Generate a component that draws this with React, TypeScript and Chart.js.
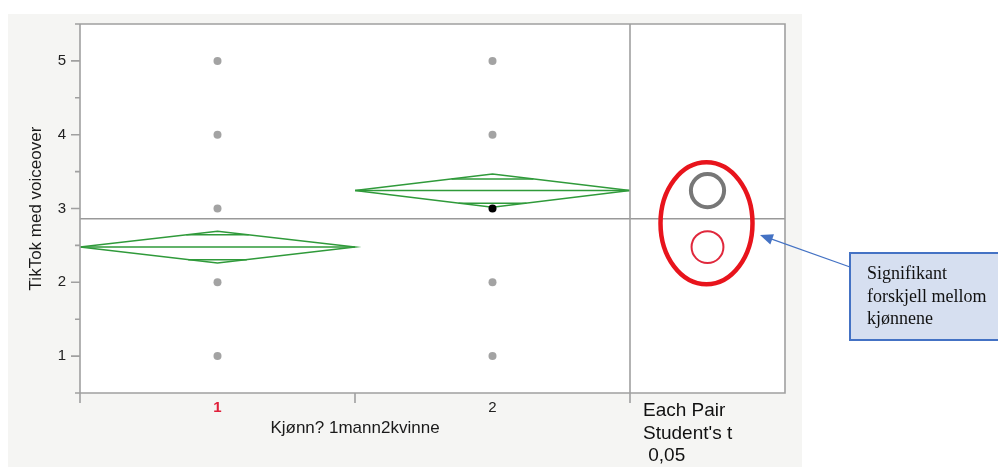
import React, { useEffect, useRef } from "react";
import { Chart, registerables } from "chart.js";

Chart.register(...registerables);

// ---- data ----
const categories = ["1", "2"];
const group1Points = [1, 2, 3, 4, 5];
const group2Points = [1, 2, 4, 5];
const group2Selected = [3];
const groupMeans = [2.477, 3.243];
const ciUpper = [2.693, 3.468];
const ciLower = [2.261, 3.016];
const overlapUpper = [2.644, 3.401];
const overlapLower = [2.307, 3.072];
const grandMean = 2.861;
const yTickLabels = ["1", "2", "3", "4", "5"];
const panelLabels = ["Each Pair", "Student's t", " 0,05"];
const noteLines = ["Signifikant", "forskjell mellom", "kjønnene"];
const xTitle = "Kjønn? 1mann2kvinne";
const yTitle = "TikTok med voiceover";
const ellipseCenterValue = 2.8;

// ---- styles ----
const GREEN = "#2f9a3a";
const FRAME = "#a0a0a0";
const DOT = "#a3a3a3";
const PANEL_W = 155;
const SANS = 'Arial, "Liberation Sans", Helvetica, sans-serif';
const SERIF = '"Liberation Serif", "Times New Roman", serif';

function diamond(i: number) {
  const c = i + 1;
  return [
    { x: c - 0.5, y: groupMeans[i] },
    { x: c, y: ciUpper[i] },
    { x: c + 0.5, y: groupMeans[i] },
    { x: c, y: ciLower[i] },
    { x: c - 0.5, y: groupMeans[i] },
  ];
}
function meanLine(i: number) {
  const c = i + 1;
  return [
    { x: c - 0.5, y: groupMeans[i] },
    { x: c + 0.5, y: groupMeans[i] },
  ];
}
function overlapLine(i: number, v: number, edge: number) {
  const c = i + 1;
  const w = 0.5 * Math.abs(edge - v) / Math.abs(edge - groupMeans[i]);
  return [
    { x: c - w, y: v },
    { x: c + w, y: v },
  ];
}
const lineDs = (data: any[]) => ({
  type: "line" as const,
  data,
  showLine: true,
  borderColor: GREEN,
  borderWidth: 1.5,
  pointRadius: 0,
  fill: false,
  tension: 0,
});

const jmpPlugin = {
  id: "jmpPlugin",
  beforeDraw(chart: any) {
    const { ctx, chartArea: a } = chart;
    const pr = a.right + PANEL_W;
    ctx.save();
    ctx.fillStyle = "#ffffff";
    ctx.fillRect(0, 0, chart.width, chart.height);
    ctx.fillStyle = "#f5f5f3";
    ctx.fillRect(8, 14, pr + 17 - 8, chart.height - 14);
    ctx.fillStyle = "#ffffff";
    ctx.fillRect(a.left, a.top, pr - a.left, a.bottom - a.top);
    ctx.restore();
  },
  beforeDatasetsDraw(chart: any) {
    const { ctx, chartArea: a, scales } = chart;
    const y = scales.y;
    const pr = a.right + PANEL_W;
    const gy = y.getPixelForValue(grandMean);
    ctx.save();
    ctx.strokeStyle = "#999999";
    ctx.lineWidth = 1.5;
    ctx.beginPath();
    ctx.moveTo(a.left, gy);
    ctx.lineTo(pr, gy);
    ctx.stroke();
    ctx.restore();
  },
  afterDraw(chart: any) {
    const { ctx, chartArea: a, scales } = chart;
    const y = scales.y;
    const x = scales.x;
    const pr = a.right + PANEL_W;
    ctx.save();
    // frame
    ctx.strokeStyle = FRAME;
    ctx.lineWidth = 1.6;
    ctx.beginPath();
    ctx.moveTo(a.left, a.top);
    ctx.lineTo(pr, a.top);
    ctx.lineTo(pr, a.bottom);
    ctx.lineTo(a.left, a.bottom);
    ctx.moveTo(a.left, a.top);
    ctx.lineTo(a.left, a.bottom + 10);
    ctx.moveTo(a.right, a.top);
    ctx.lineTo(a.right, a.bottom + 10);
    const mid = x.getPixelForValue(1.5);
    ctx.moveTo(mid, a.bottom);
    ctx.lineTo(mid, a.bottom + 10);
    // y ticks
    y.ticks.forEach((t: any) => {
      const py = y.getPixelForValue(t.value);
      const len = Number.isInteger(t.value) ? 9 : 5;
      ctx.moveTo(a.left - len, py);
      ctx.lineTo(a.left, py);
    });
    ctx.stroke();

    // comparison circles
    const cx = a.right + PANEL_W / 2;
    groupMeans.forEach((m, i) => {
      const cy = y.getPixelForValue(m);
      const r = Math.abs(y.getPixelForValue(ciUpper[i]) - cy);
      ctx.beginPath();
      ctx.arc(cx, cy, r, 0, Math.PI * 2);
      if (i === 0) {
        ctx.strokeStyle = "#e0283c";
        ctx.lineWidth = 2;
      } else {
        ctx.strokeStyle = "#777777";
        ctx.lineWidth = 4;
      }
      ctx.stroke();
    });

    // annotation ellipse
    const ey = y.getPixelForValue(ellipseCenterValue);
    ctx.beginPath();
    ctx.ellipse(cx - 1, ey, 46, 61, 0, 0, Math.PI * 2);
    ctx.strokeStyle = "#e8141c";
    ctx.lineWidth = 4.5;
    ctx.stroke();

    // panel labels
    ctx.fillStyle = "#111";
    ctx.font = `19px ${SANS}`;
    ctx.textAlign = "left";
    ctx.textBaseline = "alphabetic";
    panelLabels.forEach((s, i) => {
      ctx.fillText(s, a.right + 13, 416 + i * 22.7);
    });

    // note box
    const bx = 850, by = 253, bw = 160, bh = 87;
    ctx.fillStyle = "#d6dff0";
    ctx.fillRect(bx, by, bw, bh);
    ctx.strokeStyle = "#4472c4";
    ctx.lineWidth = 2;
    ctx.strokeRect(bx, by, bw, bh);
    ctx.fillStyle = "#111";
    ctx.font = `18px ${SERIF}`;
    noteLines.forEach((s, i) => ctx.fillText(s, 867, 279 + i * 22.5));

    // arrow
    const tx = 850, ty = 267, hx = 760, hy = 235;
    const ang = Math.atan2(hy - ty, hx - tx);
    ctx.strokeStyle = "#4472c4";
    ctx.lineWidth = 1.2;
    ctx.beginPath();
    ctx.moveTo(tx, ty);
    ctx.lineTo(hx - Math.cos(ang) * 8, hy - Math.sin(ang) * 8);
    ctx.stroke();
    ctx.fillStyle = "#4472c4";
    ctx.beginPath();
    ctx.moveTo(hx, hy);
    ctx.lineTo(hx - Math.cos(ang - 0.4) * 14, hy - Math.sin(ang - 0.4) * 14);
    ctx.lineTo(hx - Math.cos(ang + 0.4) * 14, hy - Math.sin(ang + 0.4) * 14);
    ctx.closePath();
    ctx.fill();
    ctx.restore();
  },
};

export default function App() {
  const ref = useRef<HTMLCanvasElement | null>(null);
  useEffect(() => {
    if (!ref.current) return;
    const datasets: any[] = [
      {
        type: "scatter",
        data: group1Points.map((v) => ({ x: 1, y: v })),
        pointRadius: 4,
        backgroundColor: DOT,
        borderWidth: 0,
      },
      {
        type: "scatter",
        data: group2Points.map((v) => ({ x: 2, y: v })),
        pointRadius: 4,
        backgroundColor: DOT,
        borderWidth: 0,
      },
      {
        type: "scatter",
        data: group2Selected.map((v) => ({ x: 2, y: v })),
        pointRadius: 4,
        backgroundColor: "#000",
        borderWidth: 0,
      },
    ];
    groupMeans.forEach((_, i) => {
      datasets.push(lineDs(diamond(i)));
      datasets.push(lineDs(meanLine(i)));
      datasets.push(lineDs(overlapLine(i, overlapUpper[i], ciUpper[i])));
      datasets.push(lineDs(overlapLine(i, overlapLower[i], ciLower[i])));
    });
    const chart = new Chart(ref.current, {
      type: "scatter",
      data: { datasets },
      plugins: [jmpPlugin],
      options: {
        animation: false,
        responsive: false,
        maintainAspectRatio: false,
        layout: { padding: { left: 0, top: 24, right: 998 - 630, bottom: 0 } },
        plugins: { legend: { display: false }, tooltip: { enabled: false } },
        scales: {
          x: {
            type: "linear",
            min: 0.5,
            max: 2.5,
            afterBuildTicks: (s: any) => {
              s.ticks = categories.map((_, i) => ({ value: i + 1 }));
            },
            afterFit: (s: any) => {
              s.height = 74;
            },
            grid: { display: false, drawTicks: false },
            border: { display: false },
            ticks: {
              padding: 6,
              callback: (v: any) => categories[Math.round(v) - 1],
              color: (c: any) => (c.index === 0 ? "#e0203a" : "#222"),
              font: (c: any) => ({ family: SANS, size: 15, weight: c.index === 0 ? "bold" : "normal" }),
            },
            title: {
              display: true,
              text: xTitle,
              color: "#1a1a1a",
              font: { family: SANS, size: 17 },
              padding: { top: 0, bottom: 28 },
            },
          },
          y: {
            type: "linear",
            min: 0.5,
            max: 5.5,
            afterFit: (s: any) => {
              s.width = 80;
            },
            grid: { display: false, drawTicks: false },
            border: { display: false },
            ticks: {
              stepSize: 0.5,
              padding: 14,
              color: "#222",
              font: { family: SANS, size: 15 },
              callback: (v: any) => (Number.isInteger(v) ? yTickLabels[v - 1] : ""),
            },
            title: {
              display: true,
              text: yTitle,
              color: "#1a1a1a",
              font: { family: SANS, size: 17 },
              padding: { top: 25.8, bottom: 0 },
            },
          },
        },
      },
    });
    return () => chart.destroy();
  }, []);
  return (
    <div style={{ position: "fixed", left: 0, top: 0, width: 998, height: 467, overflow: "hidden" }}>
      <canvas ref={ref} width={998} height={467} style={{ display: "block", width: 998, height: 467 }} />
    </div>
  );
}
